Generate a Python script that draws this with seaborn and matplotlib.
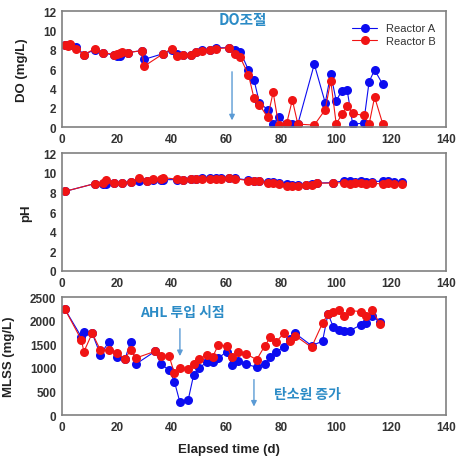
import numpy as np
import pandas as pd
import seaborn as sns
import matplotlib.pyplot as plt

# DO data
do_day = [1, 2, 3, 5, 8, 12, 15, 19, 20, 21, 22, 24, 29, 30, 37, 40, 42, 44, 47,
          49, 51, 54, 56, 61, 63, 65, 68, 70, 72, 75, 77, 79, 82, 84, 86, 92, 96,
          98, 100, 102, 104, 106, 110, 112, 114, 117]
do_a = [8.5, 8.5, 8.5, 8.3, 7.5, 8.0, 7.7, 7.4, 7.3, 7.3, 7.7, 7.7, 7.9, 7.0, 7.6,
        8.0, 7.6, 7.4, 7.5, 7.8, 8.0, 8.0, 8.2, 8.2, 8.0, 7.8, 5.9, 4.9, 2.5, 1.8,
        0.3, 1.0, 0.3, 0.3, 0.3, 6.5, 2.5, 5.5, 2.7, 3.75, 3.8, 0.3, 0.4, 4.7, 5.9, 4.4]
do_b = [8.5, 8.4, 8.6, 8.1, 7.5, 8.1, 7.7, 7.5, 7.6, 7.7, 7.8, 7.7, 7.9, 6.3, 7.6,
        8.1, 7.3, 7.4, 7.5, 7.8, 7.9, 8.0, 8.1, 8.2, 7.6, 7.2, 5.4, 3.0, 2.3, 1.0,
        3.6, 0.2, 0.45, 2.8, 0.3, 0.2, 1.8, 4.8, 0.3, 1.3, 2.2, 1.4, 1.2, 0.3, 3.1, 0.3]

# pH data
ph_day = [1, 12, 15, 16, 19, 22, 25, 28, 31, 33, 36, 37, 42, 44, 47, 49, 51, 54,
          56, 58, 61, 63, 68, 70, 72, 75, 77, 79, 82, 84, 86, 89, 91, 93, 99, 103,
          105, 107, 109, 111, 113, 117, 119, 121, 124]
ph_a = [8.1, 8.9, 8.9, 8.9, 8.95, 9.0, 9.1, 9.2, 9.2, 9.3, 9.3, 9.3, 9.3, 9.3,
        9.35, 9.4, 9.45, 9.45, 9.45, 9.45, 9.45, 9.45, 9.25, 9.2, 9.2, 9.1, 9.1,
        8.95, 8.85, 8.8, 8.75, 8.8, 8.85, 8.95, 9.0, 9.2, 9.15, 9.1, 9.2, 9.1, 9.1,
        9.15, 9.15, 9.1, 9.1]
ph_b = [8.1, 8.9, 8.95, 9.3, 8.95, 9.0, 9.1, 9.5, 9.2, 9.35, 9.35, 9.5, 9.35, 9.3,
        9.35, 9.4, 9.4, 9.4, 9.4, 9.4, 9.45, 9.4, 9.2, 9.2, 9.2, 8.95, 8.95, 8.9,
        8.7, 8.65, 8.7, 8.75, 8.8, 8.95, 8.95, 9.0, 8.85, 8.95, 8.95, 8.85, 8.95,
        8.85, 8.95, 8.9, 8.85]

# MLSS data
mlss_day = [1, 7, 8, 11, 14, 17, 20, 23, 25, 27, 34, 36, 39, 41, 43, 46, 48, 50,
            53, 55, 57, 60, 62, 64, 67, 71, 74, 76, 78, 81, 83, 85, 91, 95, 97, 99,
            101, 103, 105, 109, 111, 113, 116]
mlss_a = [2250, 1663, 1770, 1735, 1281, 1544, 1239, 1190, 1557, 1083, 1353, 1083,
          956, 707, 270, 318, 850, 998, 1132, 1118, 1204, 1345, 1062, 1140, 1083,
          1012, 1083, 1225, 1345, 1438, 1614, 1735, 1472, 1565, 2145, 1862, 1805,
          1790, 1790, 1912, 1954, 2110, 1969]
mlss_b = [2250, 1600, 1345, 1735, 1380, 1380, 1310, 1190, 1380, 1210, 1353, 1260,
          1260, 885, 990, 977, 1083, 1190, 1274, 1240, 1487, 1465, 1225, 1330, 1300,
          1175, 1472, 1650, 1544, 1741, 1578, 1685, 1438, 1948, 2145, 2195, 2236,
          2110, 2215, 2195, 2090, 2236, 1933]

reactors = ["Reactor A", "Reactor B"]
palette = {"Reactor A": "#0c0cf0", "Reactor B": "#f01414"}
txt_blue = "#2b8bc6"
arrow_blue = "#5b9bd5"
kr_font = ["Noto Sans CJK KR", "DejaVu Sans"]


def long_df(day, a, b):
    return pd.concat([
        pd.DataFrame({"day": day, "value": a, "reactor": reactors[0]}),
        pd.DataFrame({"day": day, "value": b, "reactor": reactors[1]}),
    ])


sns.set_style("white")
plt.rcParams["font.family"] = ["Liberation Sans", "DejaVu Sans"]

fig = plt.figure(figsize=(4.67, 4.64), dpi=100)
ax_do = fig.add_axes([0.1328, 0.7241, 0.822, 0.25])
ax_ph = fig.add_axes([0.1328, 0.4138, 0.822, 0.254])
ax_ml = fig.add_axes([0.1328, 0.1034, 0.822, 0.254])

panels = [
    (ax_do, long_df(do_day, do_a, do_b), "DO (mg/L)", (0, 12), 2, -0.089),
    (ax_ph, long_df(ph_day, ph_a, ph_b), "pH", (0, 12), 2, -0.078),
    (ax_ml, long_df(mlss_day, mlss_a, mlss_b), "MLSS (mg/L)", (0, 2500), 500, -0.122),
]

for ax, df, ylab, ylim, ystep, labx in panels:
    sns.lineplot(
        data=df, x="day", y="value", hue="reactor", hue_order=reactors,
        palette=palette, marker="o", markersize=6.5, markeredgewidth=0,
        linewidth=0.8, estimator=None, sort=True, ax=ax,
        legend=(ax is ax_do),
    )
    ax.set_xlim(0, 140)
    ax.set_ylim(*ylim)
    ax.set_xticks(np.arange(0, 141, 20))
    ax.set_yticks(np.arange(ylim[0], ylim[1] + 1, ystep))
    ax.set_xlabel(None)
    ax.set_ylabel(ylab, fontsize=9.5, fontweight="bold", color="#222222")
    ax.yaxis.set_label_coords(labx, 0.5)
    ax.tick_params(direction="in", length=3, width=0.8, color="#555555",
                   labelsize=8.5, labelcolor="#333333", pad=4)
    for lab in ax.get_xticklabels() + ax.get_yticklabels():
        lab.set_fontweight("bold")
    for sp in ax.spines.values():
        sp.set_color("#808080")
        sp.set_linewidth(1.2)

leg = ax_do.legend(loc="upper right", bbox_to_anchor=(0.99, 0.95), frameon=False,
                   fontsize=8, handlelength=2.2, labelspacing=0.2,
                   borderaxespad=0.2)
for t in leg.get_texts():
    t.set_color("#333333")

# annotations
ax_do.text(66, 11.2, "DO조절", color=txt_blue, fontsize=10.5, fontweight="bold",
           ha="center", va="center", family=kr_font)
ax_do.annotate("", xy=(62, 0.4), xytext=(62, 6.0),
               arrowprops=dict(arrowstyle="-|>", color=arrow_blue, lw=1.0,
                               mutation_scale=8))

ax_ml.text(44, 2190, "AHL 투입 시점", color=txt_blue, fontsize=10, fontweight="bold",
           ha="center", va="center", family=kr_font)
ax_ml.annotate("", xy=(43, 1190), xytext=(43, 1890),
               arrowprops=dict(arrowstyle="-|>", color=arrow_blue, lw=1.0,
                               mutation_scale=8))
ax_ml.text(89.5, 450, "탄소원 증가", color=txt_blue, fontsize=10, fontweight="bold",
           ha="center", va="center", family=kr_font)
ax_ml.annotate("", xy=(70, 120), xytext=(70, 810),
               arrowprops=dict(arrowstyle="-|>", color=arrow_blue, lw=1.0,
                               mutation_scale=8))

fig.text(0.49, 0.030, "Elapsed time (d)", ha="center", va="center", fontsize=9.5,
         fontweight="bold", color="#222222")

fig.savefig("out.png", dpi=100)
